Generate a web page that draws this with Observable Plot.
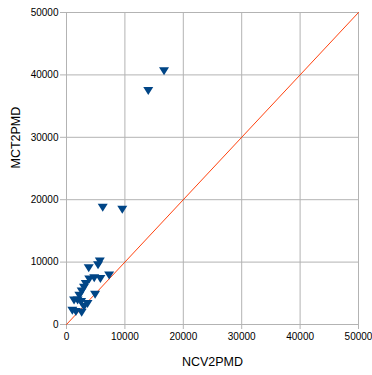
<!DOCTYPE html>
<html><head><meta charset="utf-8">
<script src="https://cdn.jsdelivr.net/npm/d3@7"></script>
<script src="https://cdn.jsdelivr.net/npm/@observablehq/plot@0.6"></script>
<style>
body{margin:0;background:#fff;font-family:"Liberation Sans",Arial,sans-serif;}
</style></head>
<body><div id="chart"></div>
<script>
const ncv2pmd = [16700, 14000, 6200, 9550, 5700, 5400, 3800, 4750, 5800, 7300, 3900, 3300, 3000, 2600, 4900, 2200, 1900, 1300, 2500, 3600, 3000, 1000, 1600, 2600];
const mct2pmd = [40600, 37400, 18700, 18400, 10100, 9500, 9000, 7400, 7300, 7850, 7200, 6500, 5900, 5300, 4750, 4600, 3850, 3850, 3600, 3300, 2800, 2200, 2000, 1900];
const ticks = [0, 10000, 20000, 30000, 40000, 50000];
const diagonal = [0, 50000];

const points = ncv2pmd.map((x, i) => ({x, y: mct2pmd[i]}));
const line = diagonal.map(v => ({x: v, y: v}));

const downTriangle = {
  draw(context, size) {
    const w = 5, h = 4;
    context.moveTo(-w, -h);
    context.lineTo(w, -h);
    context.lineTo(0, h);
    context.closePath();
  }
};

const chart = Plot.plot({
  width: 372,
  height: 375,
  marginLeft: 66,
  marginRight: 14,
  marginTop: 12,
  marginBottom: 51,
  style: {fontFamily: "Liberation Sans, Arial, sans-serif", fontSize: "10px", color: "#000"},
  x: {domain: [0, 50000], ticks, tickFormat: "d", label: null},
  y: {domain: [0, 50000], ticks, tickFormat: "d", label: null},
  marks: [
    Plot.gridX(ticks, {stroke: "#b3b3b3", strokeOpacity: 1}),
    Plot.gridY(ticks, {stroke: "#b3b3b3", strokeOpacity: 1}),
    Plot.axisX({ticks, tickFormat: "d", tickSize: 5, tickPadding: 3, stroke: "#b3b3b3", fontSize: 10, label: null}),
    Plot.axisY({ticks, tickFormat: "d", tickSize: 6, tickPadding: 2, stroke: "#b3b3b3", fontSize: 10, label: null}),
    Plot.line(line, {x: "x", y: "y", stroke: "#ff420e", strokeWidth: 1}),
    Plot.dot(points, {x: "x", y: "y", symbol: downTriangle, fill: "#004586", stroke: "none", r: 4}),
    Plot.text(["NCV2PMD"], {frameAnchor: "bottom", lineAnchor: "middle", dy: 37, fontSize: 12.5, fill: "#000"}),
    Plot.text(["MCT2PMD"], {frameAnchor: "left", dx: -51, rotate: -90, fontSize: 12.5, fill: "#000"})
  ]
});
document.getElementById("chart").appendChild(chart);
</script></body></html>
